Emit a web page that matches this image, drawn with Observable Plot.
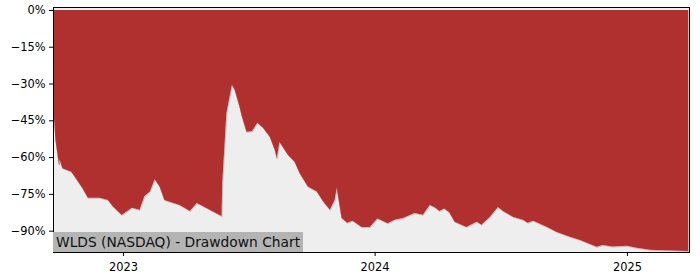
<!DOCTYPE html>
<html>
<head>
<meta charset="utf-8">
<script src="https://cdn.jsdelivr.net/npm/d3@7"></script>
<script src="https://cdn.jsdelivr.net/npm/@observablehq/plot@0.6"></script>
<style>
  html, body { margin: 0; padding: 0; background: #fff; }
  #wrap { position: relative; width: 700px; height: 280px; font-family: "DejaVu Sans", sans-serif; }
  #title { position: absolute; left: 53px; top: 232px; height: 20px; padding: 0 3px; background: #b4b4b4; color: #111;
           font-size: 13.8px; line-height: 20px; white-space: nowrap; }
</style>
</head>
<body>
<div id="wrap"></div>
<script>
const title = "WLDS (NASDAQ) - Drawdown Chart";
const dates = [
  "2022-09-22","2022-09-25","2022-09-30","2022-10-01","2022-10-05","2022-10-18","2022-11-03","2022-11-11",
  "2022-11-28","2022-12-10","2022-12-17","2022-12-30","2023-01-14","2023-01-25","2023-02-01","2023-02-09",
  "2023-02-16","2023-02-23","2023-03-02","2023-03-24","2023-04-08","2023-04-18","2023-04-27","2023-05-21",
  "2023-05-24","2023-05-25","2023-05-31","2023-06-08","2023-06-12","2023-06-19","2023-06-22","2023-06-29",
  "2023-07-07","2023-07-15","2023-07-23","2023-08-02","2023-08-09","2023-08-12","2023-08-16","2023-08-28",
  "2023-09-07","2023-09-14","2023-09-26","2023-10-09","2023-10-18","2023-10-28","2023-11-04","2023-11-07",
  "2023-11-14","2023-11-22","2023-11-30","2023-12-13","2023-12-25","2024-01-05","2024-01-20","2024-01-30",
  "2024-02-11","2024-02-28","2024-03-11","2024-03-21","2024-03-28","2024-04-04","2024-04-11","2024-04-18",
  "2024-04-26","2024-05-13","2024-05-28","2024-06-04","2024-06-16","2024-06-28","2024-07-05","2024-07-20",
  "2024-08-03","2024-08-10","2024-08-18","2024-09-07","2024-09-21","2024-10-10","2024-10-25","2024-11-08",
  "2024-11-18","2024-11-27","2024-12-11","2025-01-01","2025-01-15","2025-02-03","2025-02-22","2025-03-31"
];
const drawdown = [
  -40,-53,-63,-61,-64.5,-66,-72.6,-76.6,
  -76.6,-77.5,-80,-83.6,-80.7,-81.5,-76,-74,
  -69,-72,-77.5,-79.5,-82,-78.7,-80,-83.6,
  -84,-70.5,-42,-30.5,-32.6,-39.5,-43,-49.7,
  -49.5,-46,-48,-51.8,-57,-60.5,-53.8,-59,
  -62,-66.5,-72,-74,-78,-81.5,-77.5,-72.6,
  -84.8,-86.8,-86,-88.5,-88.5,-85,-87,-85.6,
  -84.8,-82.8,-83.5,-79.5,-80.5,-82,-81,-82.5,
  -86.4,-88.5,-86.4,-87.6,-84.4,-80.3,-82,-84.4,
  -85.6,-86.8,-86,-88.5,-90.5,-92.5,-93.8,-95.4,
  -96.6,-95.8,-96.5,-96.2,-97,-97.8,-98,-98.3
];
const yTicks = [0, -15, -30, -45, -60, -75, -90];
const xTicks = ["2023-01-01", "2024-01-01", "2025-01-01"];

const data = dates.map((d, i) => ({date: new Date(d), dd: drawdown[i]}));
const fmtPct = d => (d === 0 ? "0%" : "\u2212" + Math.abs(d) + "%");

const chart = Plot.plot({
  width: 700,
  height: 280,
  marginLeft: 53,
  marginRight: 11,
  marginTop: 7,
  marginBottom: 28,
  style: {fontFamily: "DejaVu Sans, sans-serif", fontSize: "11.4px", color: "#000", background: "#fff"},
  x: {type: "utc", domain: [new Date("2022-09-21T12:00Z"), new Date("2025-04-01")], ticks: xTicks.map(d => new Date(d)),
      tickFormat: d3.utcFormat("%Y"), tickSize: 4, tickPadding: 6, label: null},
  y: {domain: [-98.7, 1.2], ticks: yTicks, tickFormat: fmtPct, tickSize: 4, tickPadding: 4, label: null},
  marks: [
    Plot.frame({fill: "#eeeeee"}),
    Plot.areaY(data, {x: "date", y1: 0, y2: "dd", fill: "#b03030", curve: "linear"}),
    Plot.lineY(data, {x: "date", y: "dd", stroke: "#a05a5a", strokeWidth: 0.6, strokeOpacity: 0.6}),
    Plot.frame({stroke: "#000", strokeWidth: 1}),
    Plot.axisX({ticks: xTicks.map(d => new Date(d)), tickFormat: d3.utcFormat("%Y"), tickSize: 4, tickPadding: 6}),
    Plot.axisY({ticks: yTicks, tickFormat: fmtPct, tickSize: 4, tickPadding: 4})
  ]
});
const wrap = document.getElementById("wrap");
wrap.appendChild(chart);
const t = document.createElement("div");
t.id = "title";
t.textContent = title;
wrap.appendChild(t);
</script>
</body>
</html>
